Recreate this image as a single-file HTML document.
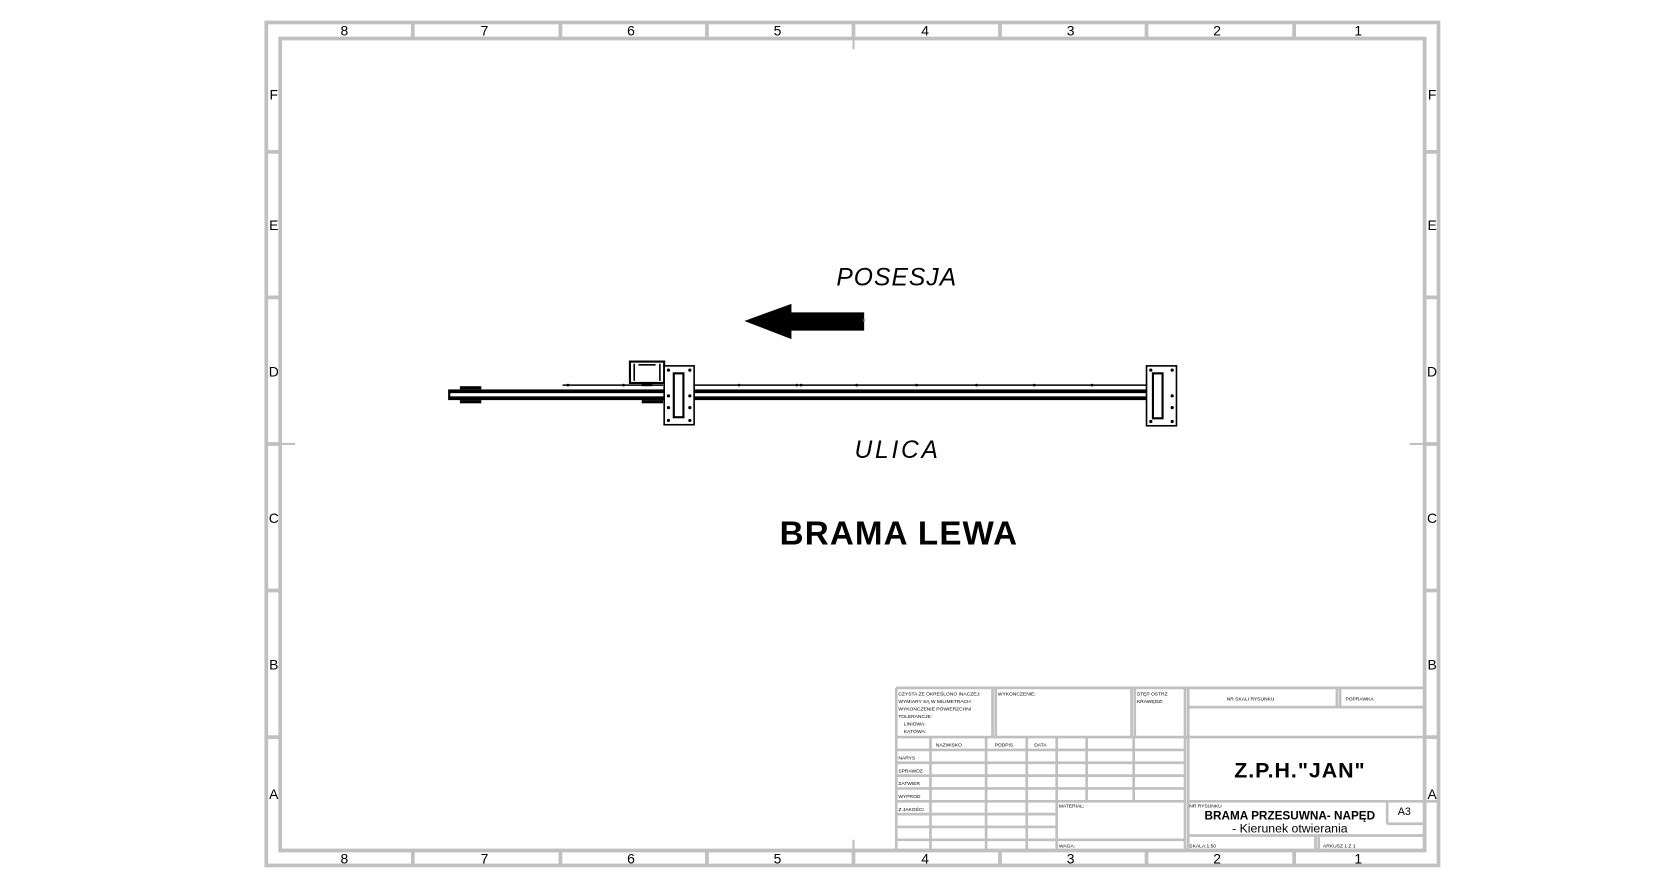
<!DOCTYPE html>
<html><head><meta charset="utf-8"><style>
html,body{margin:0;padding:0;background:#fff;}
svg{display:block;}
text{font-family:"Liberation Sans",sans-serif;}
</style></head><body>
<svg width="1677" height="889" viewBox="0 0 1568 831" preserveAspectRatio="none" xmlns="http://www.w3.org/2000/svg">
<rect width="1568" height="831" fill="#fff"/>
<g stroke="#c0c0c0" stroke-width="3.5" fill="none">
  <rect x="249" y="21" width="1096" height="788"/>
  <rect x="262" y="36" width="1070" height="759"/>
  <path d="M386 21V36M524 21V36M661 21V36M798 21V36M935 21V36M1072 21V36M1210 21V36
           M386 795V809M524 795V809M661 795V809M798 795V809M935 795V809M1072 795V809M1210 795V809
           M249 142H262M249 278H262M249 415H262M249 552H262M249 689H262
           M1332 142H1345M1332 278H1345M1332 415H1345M1332 552H1345M1332 689H1345"/>
  <path d="M798 36V46M798 795V785M262 415H276M1332 415H1318" stroke-width="2"/>
</g>
<g font-size="13" fill="#000" text-anchor="middle">
  <text x="322" y="33">8</text><text x="453" y="33">7</text><text x="590" y="33">6</text><text x="727" y="33">5</text>
  <text x="865" y="33">4</text><text x="1001" y="33">3</text><text x="1138" y="33">2</text><text x="1270" y="33">1</text>
  <text x="322" y="807">8</text><text x="453" y="807">7</text><text x="590" y="807">6</text><text x="727" y="807">5</text>
  <text x="865" y="807">4</text><text x="1001" y="807">3</text><text x="1138" y="807">2</text><text x="1270" y="807">1</text>
  <text x="256" y="93">F</text><text x="256" y="215">E</text><text x="256" y="352">D</text><text x="256" y="489">C</text><text x="256" y="626">B</text><text x="256" y="747">A</text>
  <text x="1339" y="93">F</text><text x="1339" y="215">E</text><text x="1339" y="352">D</text><text x="1339" y="489">C</text><text x="1339" y="626">B</text><text x="1339" y="747">A</text>
</g>

<text x="838" y="267" font-size="23" font-style="italic" text-anchor="middle" textLength="112">POSESJA</text>
<text x="838" y="428" font-size="23" font-style="italic" text-anchor="middle" textLength="78">ULICA</text>
<text x="840" y="509" font-size="31" font-weight="bold" text-anchor="middle" textLength="222">BRAMA LEWA</text>

<polygon points="696,300 740,284 740,292 808,292 808,309 740,309 740,317" fill="#000"/>
<text x="808" y="304" font-size="9" fill="#888" text-anchor="middle">*</text>

<g fill="none" stroke="#000">
  <rect x="419" y="364" width="662" height="10" fill="#000" stroke="none"/>
  <rect x="421" y="367.5" width="658" height="3" fill="#fff" stroke="none"/>
  <path d="M526 360H620M648 360H1072" stroke-width="1.5"/>
  <rect x="430" y="361" width="20" height="3" fill="#000" stroke="none"/>
  <rect x="430" y="374" width="20" height="3" fill="#000" stroke="none"/>
  <rect x="600" y="374" width="20" height="3" fill="#000" stroke="none"/>
  <rect x="589" y="338" width="32" height="20" stroke-width="2" fill="#fff"/>
  <path d="M593 340V356M617 340V356M597 341H613" stroke-width="1.5"/>
  <rect x="600" y="358" width="10" height="3" fill="#000" stroke="none"/>
  <rect x="621" y="342" width="28" height="55" stroke-width="1.5" fill="#fff"/>
  <rect x="630" y="349" width="9" height="41" stroke-width="2" fill="#fff"/>
  <rect x="1072" y="342" width="28" height="56" stroke-width="1.5" fill="#fff"/>
  <rect x="1078" y="349" width="9" height="42" stroke-width="2" fill="#fff"/>
</g>
<g fill="#000">
  <circle cx="625" cy="346" r="1.5"/><circle cx="645" cy="346" r="1.5"/><circle cx="625" cy="393" r="1.5"/><circle cx="645" cy="393" r="1.5"/>
  <circle cx="625" cy="370" r="1.5"/><circle cx="645" cy="370" r="1.5"/><circle cx="625" cy="381" r="1.5"/><circle cx="645" cy="381" r="1.5"/>
  <circle cx="1076" cy="346" r="1.5"/><circle cx="1096" cy="346" r="1.5"/><circle cx="1076" cy="394" r="1.5"/><circle cx="1096" cy="394" r="1.5"/>
  <circle cx="1096" cy="370" r="1.5"/><circle cx="1096" cy="381" r="1.5"/>
  <circle cx="531" cy="360" r="1.3"/><circle cx="583" cy="360" r="1.3"/><circle cx="691" cy="360" r="1.3"/><circle cx="745" cy="360" r="1.3"/>
  <circle cx="749" cy="360" r="1.3"/><circle cx="801" cy="360" r="1.3"/><circle cx="857" cy="360" r="1.3"/><circle cx="913" cy="360" r="1.3"/>
  <circle cx="967" cy="360" r="1.3"/><circle cx="1021" cy="360" r="1.3"/>
</g>

<g stroke="#c0c0c0" stroke-width="2.5" fill="none">
  <path d="M838 643H1332M838 643V795M928 643V689M931 643V689M1058 643V689M1061 643V689M1108 643V795M1111 643V795
           M1111 661H1332M1250 643V661M1253 643V661M1332 643V689
           M838 689H1345M1345 689V749M1111 749H1345
           M838 701H1108M838 713H1108M838 725H1108M838 737H1108M838 749H1108
           M838 761H988M838 773H988M838 785H1108
           M870 689V795M922 689V795M960 689V795M988 689V795M1016 689V749M1060 689V749
           M1297 749V770M1297 770H1332M1332 749V781M1111 781H1332M1230 781V795M1233 781V795"/>
</g>
<g font-size="4.6" fill="#000">
  <text x="840" y="650">CZYSTA ŻE OKREŚLONO INACZEJ:</text>
  <text x="840" y="657">WYMIARY SĄ W MILIMETRACH</text>
  <text x="840" y="664">WYKOŃCZENIE POWIERZCHNI</text>
  <text x="840" y="671">TOLERANCJE:</text>
  <text x="845" y="678">LINIOWA:</text>
  <text x="845" y="685">KĄTOWA:</text>
  <text x="933" y="650">WYKOŃCZENIE:</text>
  <text x="1063" y="650">STĘP OSTRZ</text>
  <text x="1063" y="657">KRAWĘDZI</text>
  <text x="1147" y="655">NR SKALI RYSUNKU</text>
  <text x="1258" y="655">POPRAWKA</text>
  <text x="875" y="698">NAZWISKO</text>
  <text x="930" y="698">PODPIS</text>
  <text x="967" y="698">DATA</text>
  <text x="840" y="710">NARYS</text>
  <text x="840" y="722">SPRAWDZ</text>
  <text x="840" y="734">ZATWIER</text>
  <text x="840" y="746">WYPROD</text>
  <text x="840" y="758">Z JAKOŚCI</text>
  <text x="990" y="755">MATERIAŁ:</text>
  <text x="990" y="792">WAGA:</text>
  <text x="1112" y="755">NR RYSUNKU</text>
  <text x="1112" y="792">SKALA:1:50</text>
  <text x="1237" y="792">ARKUSZ 1 Z 1</text>
</g>
<text x="1215" y="727" font-size="20" font-weight="bold" text-anchor="middle" textLength="122">Z.P.H."JAN"</text>
<text x="1206" y="766" font-size="11" font-weight="bold" text-anchor="middle">BRAMA PRZESUWNA- NAPĘD</text>
<text x="1206" y="778" font-size="11.5" text-anchor="middle">- Kierunek otwierania</text>
<text x="1313" y="762" font-size="10" text-anchor="middle">A3</text>
</svg>
</body></html>
